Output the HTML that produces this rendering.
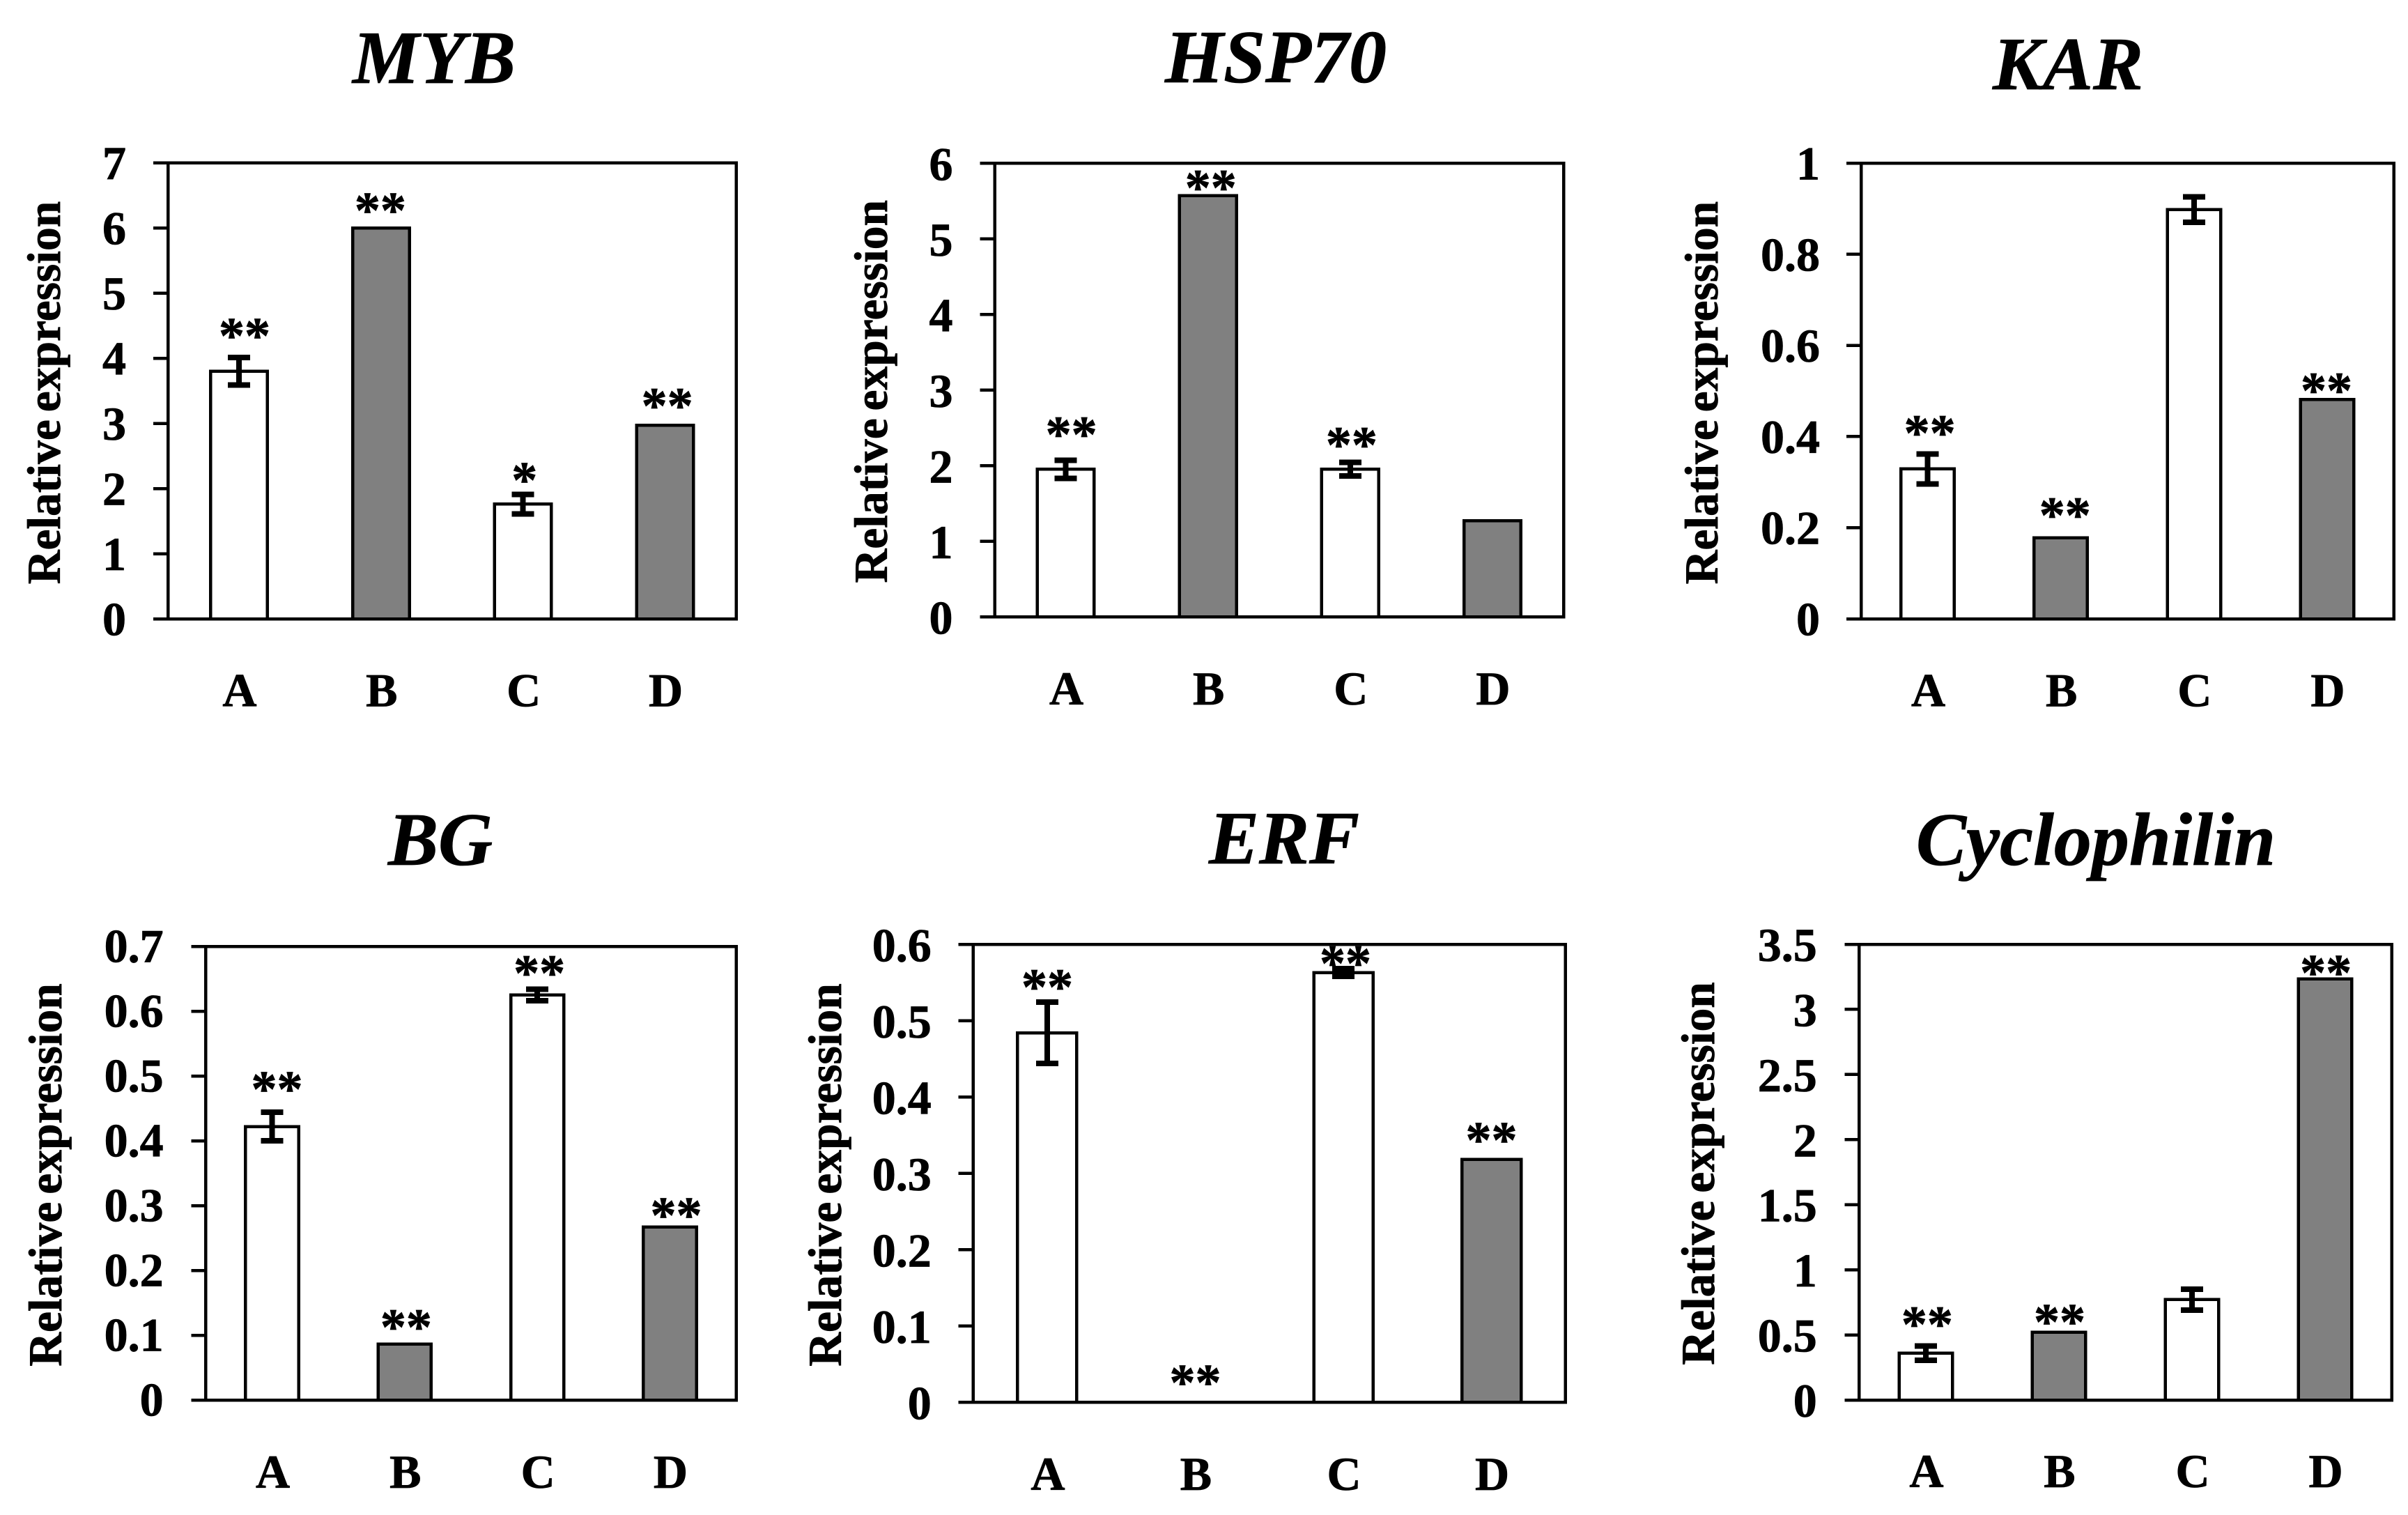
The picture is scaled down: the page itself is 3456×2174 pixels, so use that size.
<!DOCTYPE html>
<html lang="en">
<head>
<meta charset="utf-8">
<title>Relative expression of six genes</title>
<style>
html,body{margin:0;padding:0;background:#fff;}
body{width:3456px;height:2174px;overflow:hidden;}
svg{display:block;}
text{font-family:"Liberation Serif","Times New Roman",serif;font-weight:700;fill:#000;stroke:#000;stroke-width:0.8;}
.line{stroke:#000;stroke-width:4.5;fill:none;shape-rendering:crispEdges;}
.err{stroke:#000;stroke-width:8;fill:none;shape-rendering:crispEdges;}
.bar{stroke:#000;stroke-width:4.5;shape-rendering:crispEdges;}
</style>
</head>
<body>
<svg id="figure" xmlns="http://www.w3.org/2000/svg" width="3456" height="2174" viewBox="0 0 3456 2174"></svg>
<script>
// ---- data ----
const categories = ['A', 'B', 'C', 'D'];
const barColors = ['#ffffff', '#808080', '#ffffff', '#808080'];

const mybValues = [3.80, 6.00, 1.76, 2.97];
const mybErrors = [0.21, 0, 0.15, 0];
const mybStars = ['**', '**', '*', '**'];
const mybTicks = [0, 1, 2, 3, 4, 5, 6, 7];

const hspValues = [1.95, 5.57, 1.95, 1.27];
const hspErrors = [0.12, 0, 0.09, 0];
const hspStars = ['**', '**', '**', ''];
const hspTicks = [0, 1, 2, 3, 4, 5, 6];

const karValues = [0.329, 0.178, 0.898, 0.481];
const karErrors = [0.033, 0, 0.028, 0];
const karStars = ['**', '**', '', '**'];
const karTicks = [0, 0.2, 0.4, 0.6, 0.8, 1];

const bgValues = [0.422, 0.0865, 0.625, 0.267];
const bgErrors = [0.022, 0, 0.009, 0];
const bgStars = ['**', '**', '**', '**'];
const bgTicks = [0, 0.1, 0.2, 0.3, 0.4, 0.5, 0.6, 0.7];

const erfValues = [0.484, 0, 0.563, 0.318];
const erfErrors = [0.04, 0, 0.005, 0];
const erfStars = ['**', '**', '**', '**'];
const erfTicks = [0, 0.1, 0.2, 0.3, 0.4, 0.5, 0.6];

const cycValues = [0.36, 0.52, 0.771, 3.233];
const cycErrors = [0.055, 0, 0.08, 0];
const cycStars = ['**', '**', '', '**'];
const cycTicks = [0, 0.5, 1, 1.5, 2, 2.5, 3, 3.5];

// ---- panel layout ----
const panels = [
  {slug:'myb', title:'MYB', values:mybValues, errors:mybErrors, stars:mybStars, ticks:mybTicks,
   left:241, right:1056.5, top:233.6, bottom:888, labelRight:181, labelDy:1, yTitleX:86, yTitleY:563.5,
   titleX:623, titleY:119, catY:1013.5, lift:[39,33,28.5,36], nudge:[8,-1,2,3]},
  {slug:'hsp70', title:'HSP70', values:hspValues, errors:hspErrors, stars:hspStars, ticks:hspTicks,
   left:1427.5, right:2244, top:234, bottom:885, labelRight:1367.5, labelDy:2, yTitleX:1273, yTitleY:561.7,
   titleX:1831, titleY:118, catY:1011, lift:[45,19,33,0], nudge:[8,4,2,0]},
  {slug:'kar', title:'KAR', values:karValues, errors:karErrors, stars:karStars, ticks:karTicks,
   left:2671, right:3435.5, top:234, bottom:888, labelRight:2612, labelDy:1, yTitleX:2465, yTitleY:563.6,
   titleX:2968, titleY:128, catY:1013.5, lift:[38,40,0,21], nudge:[3,6,0,-1]},
  {slug:'bg', title:'BG', values:bgValues, errors:bgErrors, stars:bgStars, ticks:bgTicks,
   left:295.4, right:1056.6, top:1358, bottom:2009, labelRight:234.6, labelDy:0, yTitleX:88, yTitleY:1686,
   titleX:632, titleY:1241, catY:2135, lift:[41,32,31,25], nudge:[7,2,3,9]},
  {slug:'erf', title:'ERF', values:erfValues, errors:erfErrors, stars:erfStars, ticks:erfTicks,
   left:1396.7, right:2246.8, top:1355, bottom:2012, labelRight:1336.7, labelDy:2, yTitleX:1207, yTitleY:1686,
   titleX:1843, titleY:1239, catY:2138, lift:[30,36,15.5,36], nudge:[0,0,3,0]},
  {slug:'cyclophilin', title:'Cyclophilin', values:cycValues, errors:cycErrors, stars:cycStars, ticks:cycTicks,
   left:2668.4, right:3432.6, top:1355, bottom:2009, labelRight:2607.7, labelDy:1.5, yTitleX:2460, yTitleY:1684,
   titleX:3008, titleY:1241, catY:2134, lift:[39,23,0,17], nudge:[2,1,0,1]}
];

const SVG_NS = 'http://www.w3.org/2000/svg';
const figure = document.getElementById('figure');
const tickLen = 21;
const capHalf = 16;
const barRatio = 0.4;
const tickFont = 68;
const starFont = 74;

function make(parent, tag, attrs, text) {
  const el = document.createElementNS(SVG_NS, tag);
  for (const k in attrs) el.setAttribute(k, attrs[k]);
  if (text !== undefined) el.textContent = text;
  parent.appendChild(el);
  return el;
}

function drawPanel(p) {
  const yMax = p.ticks[p.ticks.length - 1];
  const yScale = v => p.bottom - (v / yMax) * (p.bottom - p.top);
  const band = (p.right - p.left) / categories.length;
  const xScale = i => p.left + band * (i + 0.5);

  const g = make(figure, 'g', {});
  
  

  const title = make(g, 'text', {x:p.titleX, y:p.titleY, 'text-anchor':'middle', 'font-size':108, 'font-style':'italic'}, p.title);
  
  

  const yTitle = make(g, 'text', {transform:'translate(' + p.yTitleX + ',' + p.yTitleY + ') rotate(-90)', 'text-anchor':'middle', 'font-size':67.5, 'word-spacing':-6}, 'Relative expression');
  
  

  const frame = make(g, 'rect', {x:p.left, y:p.top, width:p.right - p.left, height:p.bottom - p.top, class:'line'});
  
  

  p.ticks.forEach(t => {
    const y = yScale(t);
    const tick = make(g, 'line', {x1:p.left - tickLen, x2:p.left, y1:y, y2:y, class:'line'});
    
    
    const label = make(g, 'text', {x:p.labelRight, y:y + 22.5 + p.labelDy, 'text-anchor':'end', 'font-size':tickFont}, String(t));
    
    
  });

  categories.forEach((c, i) => {
    const v = p.values[i];
    const e = p.errors[i];
    const cx = xScale(i);
    const w = band * barRatio;
    const yv = yScale(v);

    if (v > 0) {
      const bar = make(g, 'rect', {x:cx - w / 2, y:yv, width:w, height:p.bottom - yv, fill:barColors[i], class:'bar'});
      
      
    }

    if (e > 0) {
      const yHi = yScale(v + e);
      const yLo = yScale(v - e);
      const err = make(g, 'path', {d:'M' + (cx - capHalf) + ' ' + yHi + 'H' + (cx + capHalf) + 'M' + cx + ' ' + yHi + 'V' + yLo + 'M' + (cx - capHalf) + ' ' + yLo + 'H' + (cx + capHalf), class:'err'});
      
      
    }

    if (p.stars[i]) {
      const starCentre = yScale(v + e) - p.lift[i];
      const star = make(g, 'text', {x:cx + p.nudge[i], y:starCentre + starFont * 0.44, 'text-anchor':'middle', 'font-size':starFont}, p.stars[i]);
      
      
    }

    const cat = make(g, 'text', {x:cx + 1, y:p.catY, 'text-anchor':'middle', 'font-size':tickFont}, c);
    
    
  });
}

panels.forEach(drawPanel);
</script>
</body>
</html>
